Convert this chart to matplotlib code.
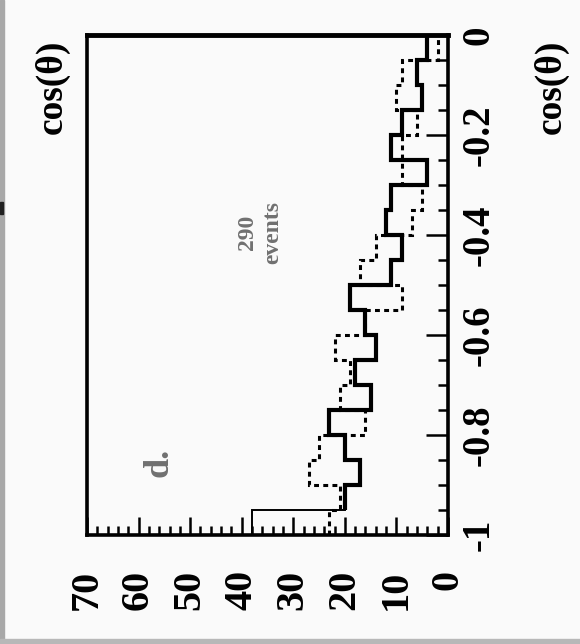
import matplotlib
matplotlib.use('Agg')
import matplotlib.pyplot as plt
from matplotlib.patches import Rectangle
from matplotlib.ticker import MultipleLocator

plt.rcParams['font.family'] = ['Liberation Serif', 'DejaVu Serif']
plt.rcParams['font.weight'] = 'bold'

# bin edges in cos(theta), 20 bins of 0.05
edges = [-1.0, -0.95, -0.9, -0.85, -0.8, -0.75, -0.7, -0.65, -0.6, -0.55, -0.5,
         -0.45, -0.4, -0.35, -0.3, -0.25, -0.2, -0.15, -0.1, -0.05, 0.0]
# solid histogram (first bin drawn thin in the original)
solid = [38, 20, 17, 20, 23, 15, 18, 14, 16, 19, 11, 9, 12, 11, 4, 11, 9, 5, 6, 4]
# dotted histogram
dotted = [23, 21, 27, 25, 16, 21, 19, 22, 16, 9, 17, 14, 7, 5, 9, 9, 6, 10, 9, 2]

count_ticks = [0, 10, 20, 30, 40, 50, 60, 70]
count_labels = ['0', '10', '20', '30', '40', '50', '60', '70']
cos_ticks = [-1, -0.8, -0.6, -0.4, -0.2, 0]
cos_labels = ['-1', '-0.8', '-0.6', '-0.4', '-0.2', '0']

W, H = 580, 644
fig = plt.figure(figsize=(W / 100, H / 100), dpi=100, facecolor='#fafafa')
# the whole plot is turned by 90 degrees: counts run right->left, cos(theta) bottom->top
ax = fig.add_axes([87 / W, 1 - 535 / H, (448 - 87) / W, 500 / H])
ax.set_facecolor('#fafafa')

ax.stairs(solid, edges, orientation='horizontal', baseline=None, color='black', lw=1.4)
ax.stairs(solid[1:], edges[1:], orientation='horizontal', baseline=None, color='black', lw=3)
ax.stairs(dotted, edges, orientation='horizontal', baseline=None, color='black',
          lw=2.2, ls=(0, (1.6, 1.4)))

ax.set_xlim(70, 0)
ax.set_ylim(-1, 0)

for side in ['left', 'right', 'bottom']:
    ax.spines[side].set_linewidth(2.6)
ax.spines['top'].set_linewidth(3.5)

ax.xaxis.set_ticks_position('bottom')
ax.yaxis.set_ticks_position('right')
ax.set_xticks(count_ticks)
ax.set_xticklabels(count_labels)
ax.xaxis.set_minor_locator(MultipleLocator(2))
ax.set_yticks(cos_ticks)
ax.set_yticklabels(cos_labels)
ax.yaxis.set_minor_locator(MultipleLocator(0.05))

ax.tick_params(axis='x', which='major', direction='in', length=13, width=1.8,
               pad=25, labelsize=29, labelrotation=90)
ax.tick_params(axis='x', which='minor', direction='in', length=6.5, width=1.8)
ax.tick_params(axis='y', which='major', direction='in', length=16, width=1.8,
               pad=9, labelsize=28, labelrotation=90)
ax.tick_params(axis='y', which='minor', direction='in', length=7, width=1.8)
for lbl in ax.get_yticklabels():
    lbl.set_va('center')

# labels and annotations
fig.text(551 / W, 1 - 87 / H, 'cos(θ)', rotation=90, ha='center', va='center', fontsize=27)
fig.text(52 / W, 1 - 87 / H, 'cos(θ)', rotation=90, ha='center', va='center', fontsize=27)
fig.text(260 / W, 1 - 232 / H, '290\nevents', rotation=90, ha='center', va='center',
         fontsize=17, color='#707070', linespacing=1.3, multialignment='center')
fig.text(159 / W, 1 - 462 / H, 'd.', rotation=90, ha='center', va='center',
         fontsize=26, color='#707070')

# scan borders
fig.patches.append(Rectangle((0, 0), 4 / W, 1, transform=fig.transFigure, color='#a8a8a8'))
fig.patches.append(Rectangle((0, 0), 1, 5 / H, transform=fig.transFigure, color='#b8b8b8'))
fig.patches.append(Rectangle((0, 1 - 214 / H), 3 / W, 12 / H, transform=fig.transFigure,
                             color='#202020'))

fig.savefig('out.png', dpi=100, facecolor=fig.get_facecolor())
